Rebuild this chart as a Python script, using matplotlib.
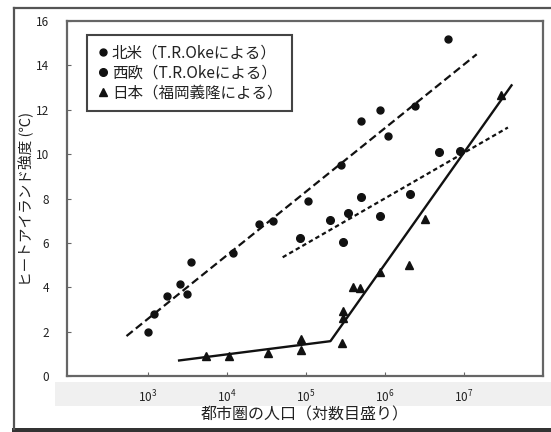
import matplotlib
matplotlib.use("Agg")
import matplotlib.pyplot as plt
from matplotlib.patches import Rectangle
from matplotlib.lines import Line2D

plt.rcParams['font.family'] = ['Noto Sans CJK JP', 'DejaVu Sans']

# ---- data (population, heat-island intensity in deg C) ----
na_pop = [1.0e3, 1.2e3, 1.74e3, 2.57e3, 3.1e3, 3.55e3, 1.2e4, 2.57e4, 3.8e4,
          1.07e5, 2.8e5, 5.0e5, 8.7e5, 1.1e6, 2.4e6, 6.3e6]
na_dt = [2.0, 2.8, 3.6, 4.15, 3.7, 5.15, 5.55, 6.85, 7.0,
         7.9, 9.5, 11.5, 12.0, 10.8, 12.15, 15.2]

eu_pop = [8.5e4, 2.0e5, 2.95e5, 3.4e5, 5.0e5, 8.7e5, 2.1e6, 4.9e6, 8.9e6]
eu_dt = [6.2, 7.03, 6.02, 7.36, 8.05, 7.22, 8.2, 10.1, 10.15]

jp_pop = [5.5e3, 1.07e4, 3.3e4, 8.7e4, 8.7e4, 2.9e5, 2.95e5, 2.95e5,
          4.0e5, 4.8e5, 8.7e5, 2.0e6, 3.2e6, 2.95e7]
jp_dt = [0.92, 0.92, 1.05, 1.65, 1.15, 1.5, 2.95, 2.6,
         4.0, 3.95, 4.7, 5.0, 7.07, 12.65]

# regression lines
na_fit_pop = [5.4e2, 1.45e7]
na_fit_dt = [1.8, 14.5]
eu_fit_pop = [5.1e4, 3.6e7]
eu_fit_dt = [5.35, 11.2]
jp_fit_pop = [2.5e3, 2.05e5, 4.0e7]
jp_fit_dt = [0.7, 1.57, 13.1]

legend_labels = ['北米（T.R.Okeによる）', '西欧（T.R.Okeによる）', '日本（福岡義隆による）']
x_ticks = [1e3, 1e4, 1e5, 1e6, 1e7]
y_ticks = [0, 2, 4, 6, 8, 10, 12, 14, 16]
xlabel = '都市圏の人口（対数目盛り）'
ylabel = 'ヒートアイランド強度 (℃)'

W, H = 551, 432
fig = plt.figure(figsize=(W / 100, H / 100), dpi=100)
fig.patch.set_facecolor('white')

# outer border of the scanned figure
fig.add_artist(Line2D([14 / W, 14 / W], [3 / H, 1 - 8 / H], color='#555555', lw=1.6))
fig.add_artist(Line2D([14 / W, 1], [1 - 8 / H, 1 - 8 / H], color='#555555', lw=1.6))
fig.add_artist(Rectangle((12 / W, 0), 1, 4 / H, facecolor='#333333', edgecolor='none'))
# light band behind x tick labels
fig.add_artist(Rectangle((55 / W, 1 - 406 / H), (W - 55) / W, 24 / H,
                         facecolor='#f0f0f0', edgecolor='none', zorder=0))

ax = fig.add_axes([67 / W, 1 - 376 / H, (543 - 67) / W, (376 - 21) / H])
ax.set_facecolor('white')
ax.set_xscale('log')
ax.set_xlim(10 ** 1.98, 1e8)
ax.set_ylim(0, 16)

ink = '#111111'
ax.plot(na_fit_pop, na_fit_dt, color=ink, lw=1.6, dashes=(3.6, 1.8))
ax.plot(eu_fit_pop, eu_fit_dt, color=ink, lw=1.6, dashes=(2.0, 1.4))
ax.plot(jp_fit_pop, jp_fit_dt, color=ink, lw=1.7, ls='-')

h1, = ax.plot(na_pop, na_dt, 'o', color=ink, ms=5, ls='none')
h2, = ax.plot(eu_pop, eu_dt, 'o', color=ink, ms=5.5, ls='none')
h3, = ax.plot(jp_pop, jp_dt, '^', color=ink, ms=5.5, ls='none')

ax.set_xticks(x_ticks)
ax.xaxis.set_minor_locator(matplotlib.ticker.NullLocator())
ax.set_yticks(y_ticks)
ax.tick_params(axis='both', direction='in', length=3, color='#666666', labelsize=8.5,
               labelcolor='#222222')
ax.tick_params(axis='y', pad=13)
ax.tick_params(axis='x', pad=9)
for s in ax.spines.values():
    s.set_color('#666666')
    s.set_linewidth(1.6)

ax.set_xlabel(xlabel, fontsize=11.5, color='#222222', labelpad=1)
ax.set_ylabel(ylabel, fontsize=10.5, color='#222222', labelpad=1)

leg = ax.legend([h1, h2, h3], legend_labels, loc='upper left',
                bbox_to_anchor=(0.042, 0.961), borderaxespad=0, fontsize=11.2,
                handlelength=0.8, handletextpad=0.2, labelspacing=0.2,
                borderpad=0.6, fancybox=False, framealpha=1, edgecolor='#444444')
leg.get_frame().set_linewidth(1.5)
for t in leg.get_texts():
    t.set_color('#222222')

fig.savefig('out.png', dpi=100)
